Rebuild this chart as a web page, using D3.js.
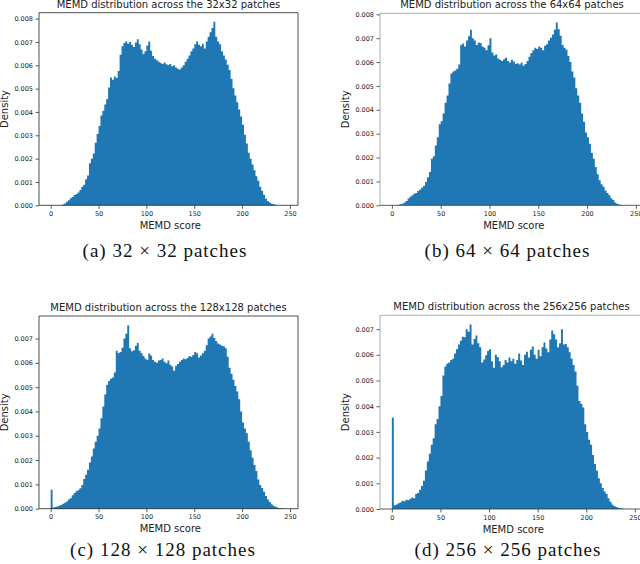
<!DOCTYPE html>
<html>
<head>
<meta charset="utf-8">
<script src="https://cdn.jsdelivr.net/npm/d3@7"></script>
<style>
body { margin: 0; background: #fff; }
svg text { font-family: "DejaVu Sans", sans-serif; fill: #222; }
svg text.cap { font-family: "Liberation Serif", serif; fill: #111; }
</style>
</head>
<body>
<svg id="fig" width="640" height="564"></svg>
<script>
// histogram densities, bins are 2 score units wide starting at 0
// values are stored in units of 1e-5 (so 786 -> 0.00786)
var binWidth = 2;

var densA = [0,0,0,0,0,0,3,8,15,22,30,36,44,48,55,66,80,88,112,128,
  180,200,222,268,305,340,385,405,432,455,505,548,538,552,546,575,645,682,695,702,
  692,700,688,678,698,712,690,668,648,660,685,702,662,640,628,622,615,610,606,612,
  604,600,606,596,600,590,585,582,590,600,615,628,642,660,672,690,702,688,682,692,
  672,702,722,742,760,786,722,702,690,660,642,625,602,580,542,502,470,442,410,380,
  345,302,265,225,200,175,150,125,105,80,62,45,28,18,12,7,4,2,0,0,
  0,0,0,0,0];

var densB = [0,0,1,2,4,7,12,18,28,36,42,48,52,60,66,75,82,98,118,140,
  195,205,250,285,340,352,385,430,460,510,552,560,565,572,590,672,678,665,690,708,
  735,700,690,672,682,680,665,660,650,670,700,640,628,632,615,610,605,612,618,605,
  598,610,602,592,595,590,598,585,592,605,622,638,650,660,655,665,660,650,668,675,
  690,702,715,735,766,738,710,672,660,652,625,600,560,535,490,460,430,385,350,305,
  285,258,220,195,160,130,105,88,78,62,52,42,30,22,12,7,3,1,0,0,
  0,0,0,0,0];

var densC = [78,5,7,9,12,15,20,24,30,38,43,55,65,72,76,84,98,122,140,160,
  190,215,248,275,300,330,372,420,470,510,525,535,540,560,650,640,645,662,700,720,
  755,660,648,652,670,682,650,640,628,618,612,638,630,612,605,600,610,612,618,605,
  598,610,592,585,568,588,595,605,612,618,615,620,628,625,632,645,640,622,630,640,
  650,672,700,708,720,702,690,680,675,670,668,660,625,580,555,530,505,482,450,400,
  355,330,310,275,240,210,180,155,120,98,85,70,52,38,28,18,12,8,5,3,
  2,1,0,0,0];

var densD = [355,15,18,22,25,32,30,36,34,40,45,42,58,62,75,90,110,150,185,215,
  250,275,330,350,400,440,520,555,565,570,580,585,605,622,640,655,670,668,700,690,
  718,640,662,675,645,630,570,582,598,615,622,575,550,600,592,575,552,560,580,570,
  590,575,585,565,580,605,578,560,600,612,590,620,632,600,585,620,595,630,648,625,
  610,660,695,680,660,630,645,700,640,642,630,610,585,560,535,480,420,410,395,330,
  300,270,250,210,175,150,120,100,82,68,58,42,28,18,12,8,5,3,2,1,
  0,0,0,0,0];

var xTicks = [0, 50, 100, 150, 200, 250];
var yTicks8 = [0, 0.001, 0.002, 0.003, 0.004, 0.005, 0.006, 0.007, 0.008];
var yTicks7 = [0, 0.001, 0.002, 0.003, 0.004, 0.005, 0.006, 0.007];

var titles = [
  "MEMD distribution across the 32x32 patches",
  "MEMD distribution across the 64x64 patches",
  "MEMD distribution across the 128x128 patches",
  "MEMD distribution across the 256x256 patches"
];
var captions = [
  "(a) 32 \u00d7 32 patches",
  "(b) 64 \u00d7 64 patches",
  "(c) 128 \u00d7 128 patches",
  "(d) 256 \u00d7 256 patches"
];

var xDomain = [-12.2, 258.4];

var svg = d3.select("#fig");

// layout of the four subplots
var panels = [
  {dens: densA, yTicks: yTicks8, title: titles[0], caption: captions[0],
   left: 39, right: 298, top: 12.7, bottom: 205.3, capX: 165, capY: 256.5, spine: "#222", side: "#222"},
  {dens: densB, yTicks: yTicks8, title: titles[1], caption: captions[1],
   left: 380, right: 644, top: 13.3, bottom: 205.3, capX: 507.5, capY: 256.5, spine: "#333", side: "#9a9a9a"},
  {dens: densC, yTicks: yTicks7, title: titles[2], caption: captions[2],
   left: 39, right: 298, top: 316, bottom: 508.7, capX: 163, capY: 556, spine: "#222", side: "#222"},
  {dens: densD, yTicks: yTicks7, title: titles[3], caption: captions[3],
   left: 380, right: 643, top: 315.3, bottom: 509, capX: 508, capY: 556, spine: "#333", side: "#9a9a9a"}
];

panels.forEach(function(p) {
  var g = svg.append("g");

  var x = d3.scaleLinear().domain(xDomain).range([p.left, p.right]);
  var ymax = d3.max(p.dens) * 1e-5 * 1.05;
  var y = d3.scaleLinear().domain([0, ymax]).range([p.bottom, p.top]);

  var bins = p.dens.map(function(v, i) {
    return {x0: i * binWidth, v: v * 1e-5};
  });
  // closing edge of the last bin
  bins.push({x0: p.dens.length * binWidth, v: 0});

  // histogram drawn as one stepped area so the bars do not show seams
  var area = d3.area()
    .x(function(d) { return x(d.x0); })
    .y0(y(0))
    .y1(function(d) { return y(d.v); })
    .curve(d3.curveStepAfter);

  g.append("path")
    .datum(bins)
    .attr("d", area)
    .attr("fill", "#1f77b4");

  // x axis
  var xAxis = d3.axisBottom(x).tickValues(xTicks).tickSize(3.5).tickSizeOuter(0).tickPadding(2.5);
  var gx = g.append("g")
    .attr("transform", "translate(0," + p.bottom + ")")
    .call(xAxis);
  gx.select(".domain").remove();
  gx.selectAll("line").attr("stroke", "#333").attr("stroke-width", 0.8);
  gx.selectAll("text").attr("font-size", 6.5).attr("font-family", "DejaVu Sans").attr("fill", "#222");

  // y axis
  var yAxis = d3.axisLeft(y).tickValues(p.yTicks).tickFormat(d3.format(".3f"))
    .tickSize(3.5).tickSizeOuter(0).tickPadding(2.5);
  var gy = g.append("g")
    .attr("transform", "translate(" + p.left + ",0)")
    .call(yAxis);
  gy.select(".domain").remove();
  gy.selectAll("line").attr("stroke", "#333").attr("stroke-width", 0.8);
  gy.selectAll("text").attr("font-size", 6.5).attr("font-family", "DejaVu Sans").attr("fill", "#222");

  // frame
  g.append("line").attr("x1", p.left).attr("x2", p.right).attr("y1", p.bottom).attr("y2", p.bottom)
    .attr("stroke", p.spine).attr("stroke-width", 0.8);
  g.append("line").attr("x1", p.left).attr("x2", p.right).attr("y1", p.top).attr("y2", p.top)
    .attr("stroke", p.side).attr("stroke-width", 0.8);
  g.append("line").attr("x1", p.left).attr("x2", p.left).attr("y1", p.top).attr("y2", p.bottom)
    .attr("stroke", p.side).attr("stroke-width", 0.8);
  g.append("line").attr("x1", p.right).attr("x2", p.right).attr("y1", p.top).attr("y2", p.bottom)
    .attr("stroke", p.side).attr("stroke-width", 0.8);

  // title
  g.append("text")
    .attr("x", (p.left + p.right) / 2)
    .attr("y", p.top - 5)
    .attr("text-anchor", "middle")
    .attr("font-size", 10)
    .text(p.title);

  // axis labels
  g.append("text")
    .attr("x", x(125))
    .attr("y", p.bottom + 23.5)
    .attr("text-anchor", "middle")
    .attr("font-size", 10)
    .text("MEMD score");

  g.append("text")
    .attr("transform", "translate(" + (p.left - 31) + "," + ((p.top + p.bottom) / 2) + ") rotate(-90)")
    .attr("text-anchor", "middle")
    .attr("font-size", 10)
    .text("Density");

  // subfigure caption
  g.append("text")
    .attr("class", "cap")
    .attr("x", p.capX)
    .attr("y", p.capY)
    .attr("text-anchor", "middle")
    .attr("font-size", 19)
    .attr("letter-spacing", 1)
    .text(p.caption);
});
</script>
</body>
</html>
